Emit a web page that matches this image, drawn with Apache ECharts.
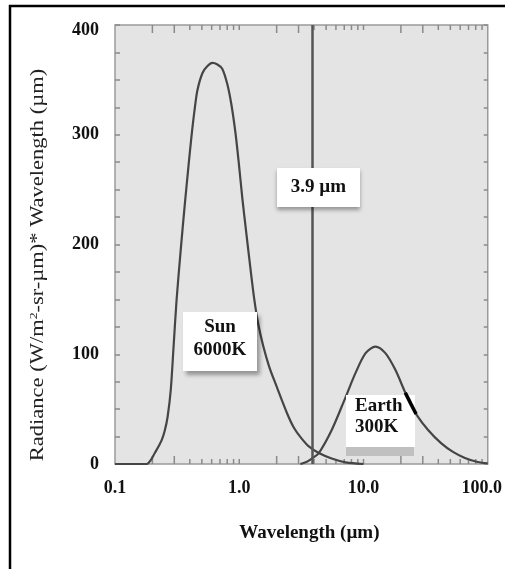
<!DOCTYPE html>
<html>
<head>
<meta charset="utf-8">
<script src="https://cdn.jsdelivr.net/npm/echarts@6/dist/echarts.min.js"></script>
<style>
  html, body { margin: 0; padding: 0; background: #ffffff; }
  #chart { width: 505px; height: 569px; }
</style>
</head>
<body>
<div id="chart"></div>
<script>
// Blackbody curves (radiance x wavelength) for the Sun and the Earth
const sunWavelength = [0.1, 0.18, 0.194, 0.209, 0.225, 0.238, 0.251, 0.265, 0.281, 0.296, 0.313, 0.337, 0.363, 0.391, 0.413, 0.437, 0.461, 0.506, 0.555, 0.608, 0.667, 0.731, 0.802, 0.863, 0.929, 0.99, 1.057, 1.138, 1.225, 1.318, 1.419, 1.556, 1.738, 1.977, 2.42, 2.754, 3.133, 3.63, 4.37, 5.546, 7.18, 10.0];
const sunRadiance   = [0, 0, 3.6, 10, 16.4, 21.9, 30, 42.8, 67.4, 106.6, 149.4, 193.2, 234.2, 272.4, 298.9, 322.6, 340.8, 356.3, 362.6, 365.4, 364, 360, 346, 328, 303, 275, 243, 211, 180, 151, 128, 108, 89, 72, 46.5, 33, 24, 16, 10, 5, 1.5, 0];

const earthWavelength = [3.1, 3.5, 3.9, 4.37, 5.55, 7.18, 8.63, 10.4, 12.5, 15.0, 18.0, 21.7, 24.0, 26.5, 33.1, 42.1, 52.5, 65.5, 83.0, 100.0];
const earthRadiance   = [0, 2, 5.5, 10, 31, 61, 83, 101, 107, 101, 86, 65, 55, 45.5, 31, 19, 11, 5.5, 1.8, 0.5];

// Highlighted stretch of the Earth curve
const earthHighlightRange = [21, 27];

// 3.9 micron channel
const cutoffWavelength = 3.9;

// Logarithmic tick positions along the wavelength axis
const logTickValues = [0.2, 0.3, 0.4, 0.5, 0.6, 0.7, 0.8, 0.9, 1, 2, 3, 4, 5, 6, 7, 8, 9, 10, 20, 30, 40, 50, 60, 70, 80, 90];

const yMin = 0, yMax = 400, yStep = 25, yLabelStep = 100;

const SERIF = "'Liberation Serif', 'Times New Roman', serif";
const CURVE = '#454545';
const BOX_FONT = 19;

const zip = (xs, ys) => xs.map((x, i) => [x, ys[i]]);
const sunData = zip(sunWavelength, sunRadiance);
const earthData = zip(earthWavelength, earthRadiance);
const earthHighlight = earthData.filter(p => p[0] >= earthHighlightRange[0] && p[0] <= earthHighlightRange[1]);

const chart = echarts.init(document.getElementById('chart'), null, { renderer: 'canvas' });

const boxText = (text, x, y, extra) => Object.assign({
  type: 'text', x, y, z: 101, silent: true,
  style: Object.assign({
    text, fill: '#111', fontFamily: SERIF, fontWeight: 'bold', fontSize: BOX_FONT,
    align: 'center', verticalAlign: 'middle'
  }, extra || {})
});

const option = {
  animation: false,
  backgroundColor: '#ffffff',
  grid: {
    left: 115, right: 15, top: 25, bottom: 105,
    show: true, backgroundColor: '#e4e4e4', borderColor: '#9a9a9a', borderWidth: 1.5
  },
  xAxis: {
    type: 'log', logBase: 10, min: 0.1, max: 100,
    axisLine: { show: false },
    axisTick: { show: false },
    splitLine: { show: false },
    axisLabel: {
      margin: 15,
      color: '#111', fontFamily: SERIF, fontWeight: 'bold', fontSize: 18,
      formatter: v => {
        const s = Number(v).toFixed(1);
        return v >= 99 ? '{r|' + s + '}' : s;
      },
      rich: { r: { padding: [0, 12, 0, 0], color: '#111', fontFamily: SERIF, fontWeight: 'bold', fontSize: 18 } }
    },
    name: 'Wavelength (µm)',
    nameLocation: 'middle',
    nameGap: 60,
    nameTextStyle: { color: '#111', fontFamily: SERIF, fontWeight: 'bold', fontSize: 19, padding: [0, 0, 0, 16] }
  },
  yAxis: [
    {
      type: 'value', min: yMin, max: yMax, interval: yStep,
      axisLine: { show: false },
      splitLine: { show: false },
      axisTick: { show: true, inside: true, length: 5, lineStyle: { color: '#8a8a8a', width: 1.5 } },
      axisLabel: {
        margin: 16,
        color: '#111', fontFamily: SERIF, fontWeight: 'bold', fontSize: 18,
        formatter: v => {
          if (v % yLabelStep !== 0) return '';
          return v === yMax ? '{t|' + v + '}' : String(v);
        },
        rich: { t: { padding: [10, 0, 0, 0], color: '#111', fontFamily: SERIF, fontWeight: 'bold', fontSize: 18 } }
      }
    },
    {
      type: 'value', min: yMin, max: yMax, interval: yStep, position: 'right',
      axisLine: { show: false },
      splitLine: { show: false },
      axisLabel: { show: false },
      axisTick: { show: true, inside: true, length: 4, lineStyle: { color: '#8a8a8a', width: 1.5 } }
    }
  ],
  series: [
    {
      name: 'ticks',
      type: 'custom',
      silent: true,
      z: 1,
      data: logTickValues.map(v => [v, 0]),
      encode: { x: 0, y: 1 },
      renderItem: (params, api) => {
        const v = api.value(0);
        const m = Math.round(v / Math.pow(10, Math.floor(Math.log10(v) + 1e-9)));
        const len = (m === 2 || m === 3) ? 8 : 5;
        const b = api.coord([v, yMin]);
        const t = api.coord([v, yMax]);
        const st = { stroke: '#8a8a8a', lineWidth: 1.5 };
        return {
          type: 'group',
          children: [
            { type: 'line', shape: { x1: b[0], y1: b[1], x2: b[0], y2: b[1] - len }, style: st },
            { type: 'line', shape: { x1: t[0], y1: t[1], x2: t[0], y2: t[1] + len }, style: st }
          ]
        };
      }
    },
    {
      name: 'Sun 6000K',
      type: 'line',
      data: sunData,
      showSymbol: false,
      smooth: 0.3,
      z: 3,
      lineStyle: { color: CURVE, width: 2.2 },
      markLine: {
        silent: true,
        symbol: 'none',
        label: { show: false },
        lineStyle: { color: '#555', width: 2.5, type: 'solid' },
        data: [{ xAxis: cutoffWavelength }]
      }
    },
    {
      name: 'Earth 300K',
      type: 'line',
      data: earthData,
      showSymbol: false,
      smooth: 0.3,
      z: 3,
      lineStyle: { color: CURVE, width: 2.2 }
    },
    {
      name: 'Earth highlight',
      type: 'line',
      data: earthHighlight,
      showSymbol: false,
      smooth: 0.3,
      zlevel: 1,
      lineStyle: { color: '#000', width: 3.5 }
    }
  ],
  graphic: [
    // outer frame
    {
      type: 'rect', silent: true, z: 100,
      shape: { x: 10, y: 6, width: 540, height: 620 },
      style: { fill: 'none', stroke: '#000', lineWidth: 2.5 }
    },
    // y axis title
    {
      type: 'text', silent: true, z: 100,
      x: 38, y: 265, rotation: Math.PI / 2, scaleX: 1.25,
      style: {
        text: 'Radiance (W/m{sup|2}-sr-µm)* Wavelength (µm)',
        fill: '#222', fontFamily: SERIF, fontSize: 18,
        align: 'center', verticalAlign: 'middle',
        rich: { sup: { fontSize: 11, fontFamily: SERIF, fill: '#222', verticalAlign: 'top' } }
      }
    },
    // 3.9 µm annotation
    {
      type: 'rect', silent: true, z: 100,
      shape: { x: 277, y: 168, width: 83, height: 39 },
      style: { fill: '#fff', shadowBlur: 4, shadowOffsetX: 0, shadowOffsetY: 3, shadowColor: 'rgba(0,0,0,0.35)' }
    },
    boxText('3.9 µm', 318.5, 187.5),
    // Sun annotation
    {
      type: 'rect', silent: true, z: 100,
      shape: { x: 183, y: 312, width: 74, height: 59 },
      style: { fill: '#fff', shadowBlur: 4, shadowOffsetX: 3, shadowOffsetY: 4, shadowColor: 'rgba(0,0,0,0.35)' }
    },
    boxText('Sun\n6000K', 220, 339, { lineHeight: 23 }),
    // Earth annotation
    { type: 'rect', silent: true, z: 100, shape: { x: 346, y: 395, width: 69, height: 52 }, style: { fill: '#fff' } },
    { type: 'rect', silent: true, z: 100, shape: { x: 346, y: 447, width: 68, height: 9 }, style: { fill: '#c0c0c0' } },
    boxText('Earth\n300K', 355, 416.5, { lineHeight: 21, align: 'left' })
  ]
};

chart.setOption(option);
</script>
</body>
</html>
